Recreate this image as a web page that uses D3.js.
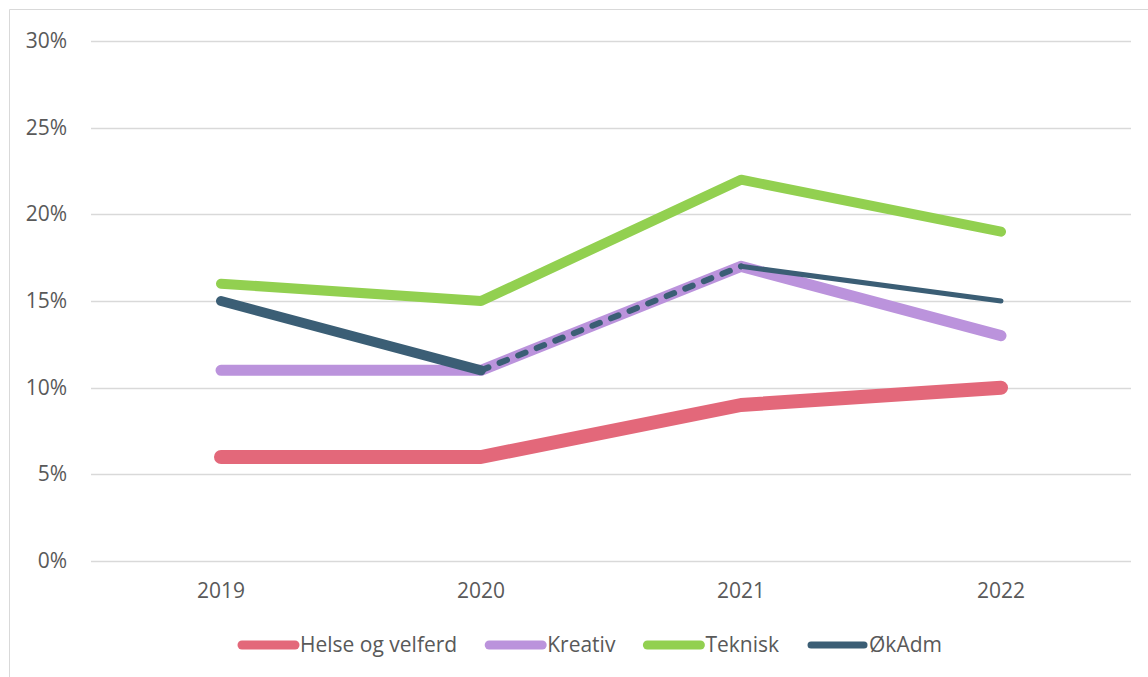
<!DOCTYPE html>
<html>
<head>
<meta charset="utf-8">
<script src="https://cdn.jsdelivr.net/npm/d3@7"></script>
<style>
  body { margin: 0; background: #fff; }
  svg text { font-family: "Open Sans", Lato, sans-serif; fill: #595959; }
</style>
</head>
<body>
<svg id="chart" width="1148" height="677"></svg>
<script>
// data (percent)
const years = ["2019", "2020", "2021", "2022"];
const helse = [6, 6, 9, 10];
const kreativ = [11, 11, 17, 13];
const teknisk = [16, 15, 22, 19];
const okadm = [15, 11, 17, 15];
const seriesNames = ["Helse og velferd", "Kreativ", "Teknisk", "ØkAdm"];
const yTicks = [0, 5, 10, 15, 20, 25, 30];

const colors = ["#E3687A", "#BB93DC", "#92D050", "#3B5E75"];
const widths = [14, 11, 10, 10];
const legendWidths = [9, 9, 9, 7];
// ØkAdm changes style segment by segment
const okSegStyle = [
  { w: 10, dash: null },
  { w: 6, dash: "8,12" },
  { w: 5, dash: null }
];

const svg = d3.select("#chart");
const margin = { left: 91, right: 17, top: 41, bottom: 116 };
const W = 1148, H = 677;

// outer frame
svg.append("path")
  .attr("d", `M9.5,${H} V9.5 H${W}`)
  .attr("fill", "none").attr("stroke", "#d9d9d9").attr("stroke-width", 1);

const x = d3.scaleBand().domain(years).range([margin.left, W - margin.right]);
const y = d3.scaleLinear().domain([0, 30]).range([H - margin.bottom, margin.top]);

// gridlines
svg.append("g").selectAll("line").data(yTicks).enter().append("line")
  .attr("x1", margin.left).attr("x2", W - margin.right)
  .attr("y1", d => Math.round(y(d)) + 0.5).attr("y2", d => Math.round(y(d)) + 0.5)
  .attr("stroke", "#d9d9d9").attr("stroke-width", 1.5);

svg.append("g").selectAll("text").data(yTicks).enter().append("text")
  .attr("x", 67).attr("y", d => y(d) + 7)
  .attr("text-anchor", "end").style("font-size", "21px")
  .text(d => d + "%");

svg.append("g").selectAll("text").data(years).enter().append("text")
  .attr("x", d => x(d) + x.bandwidth() / 2).attr("y", 598)
  .attr("text-anchor", "middle").style("font-size", "21px")
  .text(d => d);

const line = d3.line()
  .x((d, i) => x(years[i]) + x.bandwidth() / 2)
  .y(d => y(d));

const all = [helse, kreativ, teknisk];
all.forEach((vals, k) => {
  svg.append("path").datum(vals)
    .attr("d", line)
    .attr("fill", "none")
    .attr("stroke", colors[k])
    .attr("stroke-width", widths[k])
    .attr("stroke-linecap", "round")
    .attr("stroke-linejoin", "round");
});

// ØkAdm drawn per segment
okSegStyle.forEach((s, i) => {
  const seg = [okadm[i], okadm[i + 1]];
  const x0 = x(years[i]) + x.bandwidth() / 2, x1 = x(years[i + 1]) + x.bandwidth() / 2;
  svg.append("path")
    .attr("d", d3.line()([[x0, y(seg[0])], [x1, y(seg[1])]]))
    .attr("fill", "none")
    .attr("stroke", colors[3])
    .attr("stroke-width", s.w)
    .attr("stroke-linecap", "round")
    .attr("stroke-dasharray", s.dash);
});

// legend, flowed left to right
let lx = 238;
seriesNames.forEach((name, i) => {
  const g = svg.append("g").attr("transform", `translate(${lx},645)`);
  g.append("line")
    .attr("x1", 4).attr("x2", 57).attr("y1", 0).attr("y2", 0)
    .attr("stroke", colors[i])
    .attr("stroke-width", legendWidths[i])
    .attr("stroke-linecap", "round");
  const t = g.append("text")
    .attr("x", 62).attr("y", 7)
    .style("font-size", "21px")
    .text(name);
  lx += 62 + t.node().getComputedTextLength() + 28;
});
</script>
</body>
</html>
